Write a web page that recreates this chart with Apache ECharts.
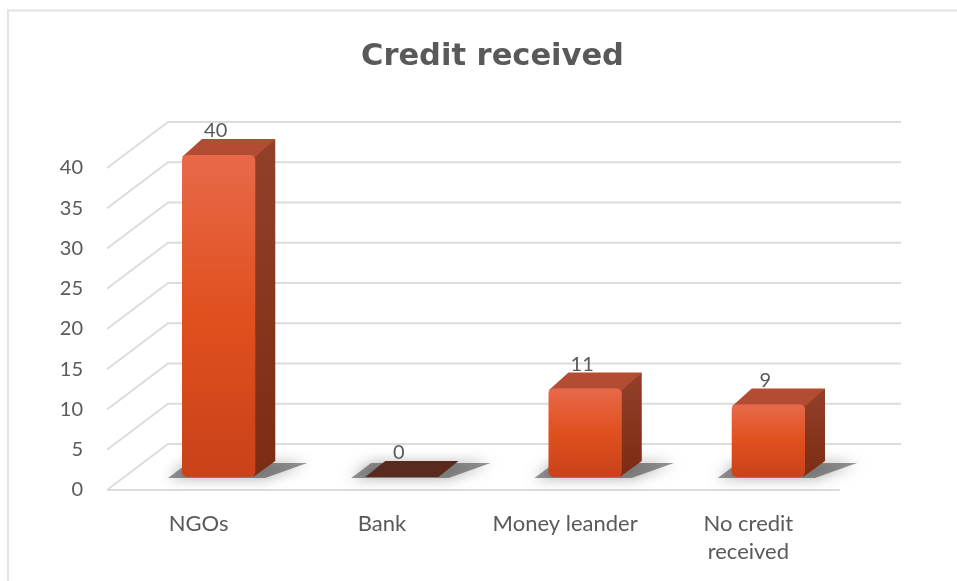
<!DOCTYPE html>
<html>
<head>
<meta charset="utf-8">
<script src="https://cdn.jsdelivr.net/npm/echarts@6/dist/echarts.min.js"></script>
<style>
  html, body { margin: 0; padding: 0; background: #fff; }
  #main { width: 957px; height: 581px; }
</style>
</head>
<body>
<div id="main"></div>
<script>
// data
const categories = ['NGOs', 'Bank', 'Money leander', 'No credit received'];
const values = [40, 0, 11, 9];
const yTicks = [0, 5, 10, 15, 20, 25, 30, 35, 40];

// 3d look (pixels)
const WALL_DX = 61, WALL_DY = 46;   // depth of the back wall
const FACE_DX = 20, FACE_DY = 13;   // where the bar front sits
const BAR_DX = 20, BAR_DY = 16;     // bar depth
const txt = '#595959';
const gridColor = '#dcdcdc';

var chartDom = document.getElementById('main');
var myChart = echarts.init(chartDom);

function renderGrid(params, api) {
    const cs = params.coordSys;
    const v = api.value(1);
    const y = api.coord([0, v])[1];
    const x0 = cs.x, x1 = cs.x + cs.width;
    const kids = [{
        type: 'polyline',
        shape: { points: [[x0, y], [x0 + WALL_DX, y - WALL_DY], [x1 + WALL_DX, y - WALL_DY]] },
        style: { stroke: gridColor, lineWidth: 2, fill: null }
    }];
    if (v === 0) {
        kids.push({
            type: 'line',
            shape: { x1: x0, y1: y, x2: x1, y2: y },
            style: { stroke: gridColor, lineWidth: 2 }
        });
    }
    return { type: 'group', children: kids };
}

function renderBar(params, api) {
    const i = api.value(0), v = api.value(1);
    const base = api.coord([i, 0]);
    const top = api.coord([i, v]);
    const w = api.size([1, 0])[0] * 0.4;
    const cx = base[0] + FACE_DX;
    const yb = base[1] - FACE_DY;
    const yt = top[1] - FACE_DY;
    const x0 = cx - w / 2, x1 = cx + w / 2;
    const kids = [];
    // floor shadow
    kids.push({
        type: 'polygon',
        shape: { points: [[x0 - 14, yb + 1], [x1 + 10, yb + 1], [x1 + BAR_DX + 32, yb - BAR_DY + 2], [x0 + 6, yb - BAR_DY + 2]] },
        style: { fill: 'rgba(60,60,60,0.55)', shadowBlur: 14, shadowColor: 'rgba(0,0,0,0.6)' }
    });
    if (v > 0) {
        kids.push({
            type: 'polygon',
            shape: { points: [[x1 - 2, yt], [x1 + BAR_DX, yt - BAR_DY], [x1 + BAR_DX, yb - BAR_DY], [x1 - 2, yb]] },
            style: {
                fill: new echarts.graphic.LinearGradient(0, 0, 0, 1, [
                    { offset: 0, color: '#93402a' },
                    { offset: 1, color: '#7c2c12' }
                ])
            }
        });
        kids.push({
            type: 'polygon',
            shape: { points: [[x0, yt + 2], [x1, yt + 2], [x1 + BAR_DX, yt - BAR_DY], [x0 + BAR_DX, yt - BAR_DY]] },
            style: { fill: '#b24d34' }
        });
        kids.push({
            type: 'rect',
            shape: { x: x0, y: yt, width: w, height: yb - yt, r: 5 },
            style: {
                fill: new echarts.graphic.LinearGradient(0, 0, 0, 1, [
                    { offset: 0, color: '#e8694a' },
                    { offset: 0.5, color: '#e0501e' },
                    { offset: 1, color: '#c9421a' }
                ])
            }
        });
    } else {
        kids.push({
            type: 'polygon',
            shape: { points: [[x0, yb], [x1, yb], [x1 + BAR_DX, yb - BAR_DY], [x0 + BAR_DX, yb - BAR_DY]] },
            style: { fill: '#5b2a1f' }
        });
    }
    kids.push({
        type: 'text',
        style: {
            text: String(v), x: cx - 3, y: yt - BAR_DY - 8,
            align: 'center', verticalAlign: 'middle',
            fill: txt, fontSize: 20, fontFamily: 'Lato'
        }
    });
    return { type: 'group', children: kids };
}

var option = {
    animation: false,
    title: {
        text: 'Credit received',
        left: 356,
        top: 37,
        textStyle: { fontSize: 30.5, fontWeight: 'bold', color: txt, fontFamily: 'DejaVu Sans' }
    },
    graphic: [{
        type: 'polyline',
        shape: { points: [[8, 581], [8, 10.5], [957, 10.5]] },
        style: { stroke: '#e2e2e2', lineWidth: 2, fill: null },
        silent: true
    }],
    grid: { left: 107, right: 117, top: 168, bottom: 91 },
    xAxis: {
        type: 'category',
        data: categories,
        axisLine: { show: false },
        axisTick: { show: false },
        axisLabel: {
            interval: 0, hideOverlap: false,
            color: txt, fontSize: 22, fontFamily: 'Lato', margin: 20, lineHeight: 28,
            formatter: function (s) { return s === 'No credit received' ? 'No credit\nreceived' : s; }
        }
    },
    yAxis: {
        type: 'value',
        min: 0, max: 40, interval: 5,
        axisLine: { show: false },
        axisTick: { show: false },
        splitLine: { show: false },
        axisLabel: { color: txt, fontSize: 20, fontFamily: 'Lato', margin: 24 }
    },
    series: [
        {
            type: 'custom',
            renderItem: renderGrid,
            data: yTicks.map(function (v) { return [0, v]; }),
            encode: { x: 0, y: 1 },
            silent: true
        },
        {
            type: 'custom',
            renderItem: renderBar,
            data: values.map(function (v, i) { return [i, v]; }),
            encode: { x: 0, y: 1 }
        }
    ]
};
option && myChart.setOption(option);
</script>
</body>
</html>
